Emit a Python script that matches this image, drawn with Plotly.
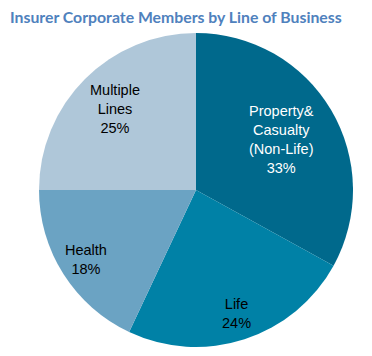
import math
import plotly.graph_objects as go

categories = ["Property&<br>Casualty<br>(Non-Life)", "Life", "Health", "Multiple<br>Lines"]
values = [33, 24, 18, 25]
colors = ["#00698C", "#0081A6", "#6BA3C3", "#AFC7D9"]
text_colors = ["white", "black", "black", "black"]
label_radius = [0.63, 0.83, 0.83, 0.73]  # fraction of pie radius where labels sit

# figure fits inside the 8px page margin of the browser body
W, H = 364, 348
CX, CY, R = 188, 182, 157  # pie centre / radius in figure pixels (from top-left)

fig = go.Figure(go.Pie(
    labels=categories,
    values=values,
    sort=False,
    direction="clockwise",
    rotation=0,
    marker=dict(colors=colors, line=dict(width=0)),
    textinfo="none",
    hoverinfo="label+percent",
    domain=dict(x=[(CX - R) / W, (CX + R) / W],
                y=[(H - CY - R) / H, (H - CY + R) / H]),
    showlegend=False,
))

total = sum(values)
cum = 0
for lab, v, tc, rf in zip(categories, values, text_colors, label_radius):
    mid = (cum + v / 2) / total * 2 * math.pi
    cum += v
    dx = rf * R * math.sin(mid)
    dy = rf * R * math.cos(mid)
    fig.add_annotation(
        x=(CX + dx) / W, y=(H - CY + dy) / H, xref="paper", yref="paper",
        text=f"{lab}<br>{round(v / total * 100)}%",
        showarrow=False, xanchor="center", yanchor="middle", align="center",
        font=dict(family="Liberation Sans, Arial", size=14.5, color=tc),
    )

fig.update_layout(
    width=W, height=H,
    margin=dict(l=0, r=0, t=0, b=0),
    paper_bgcolor="white",
    plot_bgcolor="white",
    title=dict(
        text="<b>Insurer Corporate Members by Line of Business</b>",
        x=2 / W, xanchor="left", y=1 - 9 / H, yanchor="middle",
        font=dict(family="Lato, Open Sans", size=15.8, color="#4F81BD"),
    ),
)

fig.write_html("out.html")
